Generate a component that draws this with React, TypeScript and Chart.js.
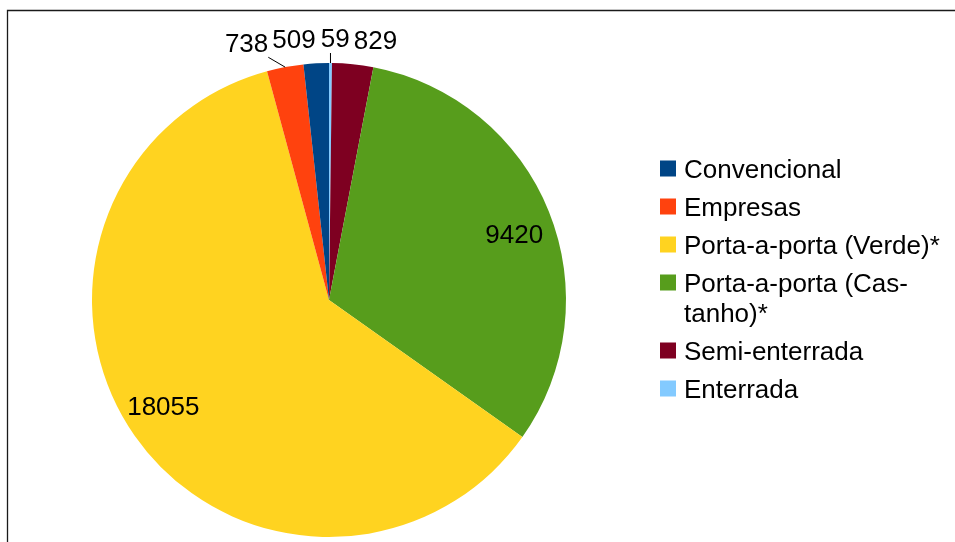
import React, { useEffect, useRef } from "react";
import { Chart, registerables } from "chart.js";

Chart.register(...registerables);

// ---- data (legend order) ----
const categories = [
  "Convencional",
  "Empresas",
  "Porta-a-porta (Verde)*",
  "Porta-a-porta (Castanho)*",
  "Semi-enterrada",
  "Enterrada",
];
const legendLines = [
  ["Convencional"],
  ["Empresas"],
  ["Porta-a-porta (Verde)*"],
  ["Porta-a-porta (Cas-", "tanho)*"],
  ["Semi-enterrada"],
  ["Enterrada"],
];
const values = [509, 738, 18055, 9420, 829, 59];
const colors = ["#004586", "#ff420e", "#ffd320", "#579d1c", "#7e0021", "#83caff"];

const FONT = '"Liberation Sans", Arial, sans-serif';
const SIZE = 26;

// LibreOffice draws counter-clockwise from 12 o'clock; Chart.js draws clockwise,
// so the dataset uses the reversed order.
const pieLabels = [...categories].reverse();
const pieValues = [...values].reverse();
const pieColors = [...colors].reverse();

const borderPlugin = {
  id: "frame",
  beforeDraw(chart: any) {
    const ctx = chart.ctx;
    ctx.save();
    ctx.fillStyle = "#ffffff";
    ctx.fillRect(0, 0, chart.width, chart.height);
    ctx.strokeStyle = "#1a1a1a";
    ctx.lineWidth = 1.3;
    ctx.beginPath();
    ctx.moveTo(7.5, chart.height);
    ctx.lineTo(7.5, 10.5);
    ctx.lineTo(chart.width, 10.5);
    ctx.stroke();
    ctx.restore();
  },
};

const labelPlugin = {
  id: "sliceLabels",
  afterDatasetsDraw(chart: any) {
    const ctx = chart.ctx;
    const meta = chart.getDatasetMeta(0);
    const data = chart.data.datasets[0].data as number[];
    const total = data.reduce((a, b) => a + b, 0);
    ctx.save();
    ctx.font = `${SIZE}px ${FONT}`;
    ctx.fillStyle = "#000000";
    ctx.textBaseline = "alphabetic";
    const outside: any[] = [];
    const h = SIZE * 1.15;
    meta.data.forEach((arc: any, i: number) => {
      const p = arc.getProps(["x", "y", "startAngle", "endAngle", "outerRadius"], true);
      const mid = (p.startAngle + p.endAngle) / 2;
      const dx = Math.cos(mid);
      const dy = Math.sin(mid);
      const text = String(data[i]);
      const w = ctx.measureText(text).width;
      if (data[i] / total >= 0.05) {
        const a = mid + 0.04;
        const cx = p.x + Math.cos(a) * p.outerRadius * 0.83;
        const cy = p.y + Math.sin(a) * p.outerRadius * 0.83;
        ctx.textAlign = "center";
        ctx.fillText(text, cx, cy + SIZE * 0.36);
      } else {
        const ax = p.x + dx * (p.outerRadius + 10);
        const ay = p.y + dy * (p.outerRadius + 10);
        const left = dx < 0 ? ax - w : ax;
        const top = dy < 0 ? ay - h : ay;
        outside.push({
          text,
          w,
          left,
          top,
          orig: left,
          ex: p.x + dx * p.outerRadius,
          ey: p.y + dy * p.outerRadius,
          dy,
        });
      }
    });
    outside.sort((a, b) => a.left - b.left);
    const gap = 4;
    for (let i = outside.length - 2; i >= 0; i--) {
      const a = outside[i];
      const b = outside[i + 1];
      const vOverlap = a.top < b.top + h && b.top < a.top + h;
      if (vOverlap && a.left + a.w + gap > b.left) {
        a.left = b.left - gap - a.w;
      }
    }
    ctx.textAlign = "left";
    outside.forEach((o) => {
      ctx.fillText(o.text, o.left, o.top + h - SIZE * 0.22);
      if (Math.abs(o.left - o.orig) > 0.3) {
        const tx = Math.min(Math.max(o.ex, o.left), o.left + o.w);
        const ty = o.dy < 0 ? o.top + h : o.top;
        ctx.strokeStyle = "#000000";
        ctx.lineWidth = 1;
        ctx.beginPath();
        ctx.moveTo(o.ex, o.ey);
        ctx.lineTo(tx, ty);
        ctx.stroke();
      }
    });
    ctx.restore();
  },
};

const legendPlugin = {
  id: "sideLegend",
  afterDraw(chart: any) {
    const ctx = chart.ctx;
    ctx.save();
    ctx.font = `${SIZE}px ${FONT}`;
    ctx.textAlign = "left";
    ctx.textBaseline = "alphabetic";
    let cy = 168.5;
    const lineH = 30;
    const rowGap = 38;
    legendLines.forEach((lines, i) => {
      ctx.fillStyle = colors[i];
      ctx.fillRect(660, cy - 8, 16, 16);
      ctx.fillStyle = "#000000";
      lines.forEach((ln, j) => {
        ctx.fillText(ln, 684, cy + j * lineH + SIZE * 0.358);
      });
      cy += rowGap + (lines.length - 1) * lineH;
    });
    ctx.restore();
  },
};

export default function App() {
  const ref = useRef<HTMLCanvasElement | null>(null);
  useEffect(() => {
    if (!ref.current) return;
    const chart = new Chart(ref.current, {
      type: "pie",
      data: {
        labels: pieLabels,
        datasets: [
          {
            data: pieValues,
            backgroundColor: pieColors,
            borderWidth: 0,
          },
        ],
      },
      options: {
        responsive: false,
        animation: false,
        devicePixelRatio: 1,
        rotation: 0,
        layout: { padding: { left: 92, top: 63, right: 389, bottom: 5 } },
        plugins: {
          legend: { display: false },
          tooltip: { enabled: false },
        },
      },
      plugins: [borderPlugin, labelPlugin, legendPlugin],
    });
    return () => chart.destroy();
  }, []);
  return (
    <div style={{ position: "fixed", left: 0, top: 0, width: 955, height: 542, background: "#fff" }}>
      <canvas ref={ref} width={955} height={542} style={{ display: "block" }} />
    </div>
  );
}
